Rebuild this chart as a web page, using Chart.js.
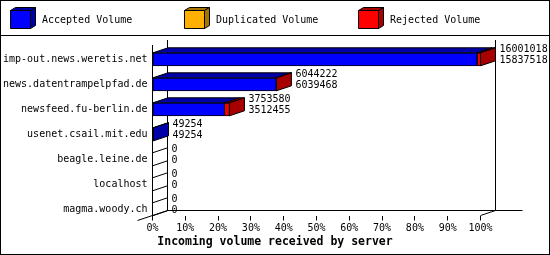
<!DOCTYPE html>
<html>
<head>
<meta charset="utf-8">
<script src="https://cdn.jsdelivr.net/npm/chart.js@4/dist/chart.umd.min.js"></script>
<style>
  html, body { margin: 0; padding: 0; background: #fff; }
  canvas { display: block; }
</style>
</head>
<body>
<canvas id="volumeChart" width="550" height="255"></canvas>
<script>
// incoming volume per server
const hosts = ["imp-out.news.weretis.net", "news.datentrampelpfad.de", "newsfeed.fu-berlin.de",
  "usenet.csail.mit.edu", "beagle.leine.de", "localhost", "magma.woody.ch"];
const offered = [16001018, 6044222, 3753580, 49254, 0, 0, 0];
const accepted = [15837518, 6039468, 3512455, 49254, 0, 0, 0];
const duplicated = [0, 0, 0, 0, 0, 0, 0];
const rejected = [163500, 4754, 241125, 0, 0, 0, 0];
const pctTicks = [0, 10, 20, 30, 40, 50, 60, 70, 80, 90, 100];

const FONT = '"DejaVu Sans Mono", monospace';
const DX = 15, DY = -5; // depth of the 3d box
const fullScale = Math.max(...offered);

const series = [
  { label: "Accepted Volume", values: accepted, color: "#0000ff", dark: "#0000a8" },
  { label: "Duplicated Volume", values: duplicated, color: "#ffb000", dark: "#a87400" },
  { label: "Rejected Volume", values: rejected, color: "#ff0000", dark: "#a80000" },
];

function line(ctx, x1, y1, x2, y2) {
  ctx.beginPath();
  ctx.moveTo(x1, y1);
  ctx.lineTo(x2, y2);
  ctx.stroke();
}

function poly(ctx, pts, fill) {
  ctx.beginPath();
  ctx.moveTo(pts[0][0], pts[0][1]);
  for (let k = 1; k < pts.length; k++) ctx.lineTo(pts[k][0], pts[k][1]);
  ctx.closePath();
  if (fill) {
    ctx.fillStyle = fill;
    ctx.fill();
  }
  ctx.strokeStyle = "#000";
  ctx.lineWidth = 1;
  ctx.stroke();
}

// draws frame, legend cubes, bar depth faces and value labels
const box3d = {
  id: "box3d",
  beforeDraw(chart) {
    const { ctx, width, height } = chart;
    ctx.save();
    ctx.fillStyle = "#fff";
    ctx.fillRect(0, 0, width, height);
    ctx.strokeStyle = "#000";
    ctx.lineWidth = 1;
    ctx.strokeRect(0.5, 0.5, width - 1, height - 1);
    line(ctx, 0, 35.5, width, 35.5);

    series.forEach((s, k) => {
      const x = 10.5 + k * 174, y = 10.5, w = 20, h = 18;
      poly(ctx, [[x, y], [x + w, y], [x + w + 5, y - 3], [x + 5, y - 3]], s.dark);
      poly(ctx, [[x + w, y], [x + w + 5, y - 3], [x + w + 5, y + h - 3], [x + w, y + h]], s.dark);
      poly(ctx, [[x, y], [x + w, y], [x + w, y + h], [x, y + h]], s.color);
      ctx.fillStyle = "#000";
      ctx.font = "10px " + FONT;
      ctx.textAlign = "left";
      ctx.textBaseline = "middle";
      ctx.fillText(s.label, x + 31.5, 20);
    });

    ctx.font = "bold 11.5px " + FONT;
    ctx.textAlign = "center";
    ctx.fillText("Incoming volume received by server", width / 2, 242);
    ctx.restore();
  },
  beforeDatasetsDraw(chart) {
    const { ctx, chartArea: a } = chart;
    const L = a.left, R = a.right, T = a.top, B = a.bottom;
    ctx.save();
    ctx.strokeStyle = "#000";
    ctx.lineWidth = 1;
    line(ctx, L, T, L, B);
    line(ctx, L + DX, T + DY, L + DX, B + DY);
    line(ctx, R + DX, T + DY, R + DX, B + DY);
    line(ctx, L + DX, B + DY, R + DX + 27, B + DY);
    line(ctx, L + DX, B + DY, L - DX, B - DY);
    line(ctx, R, B, R + DX, B + DY);
    ctx.restore();
  },
  afterDatasetsDraw(chart) {
    const { ctx } = chart;
    const metas = series.map((s, k) => chart.getDatasetMeta(k));
    ctx.save();
    hosts.forEach((host, i) => {
      let lastDark = null;
      metas.forEach((meta, k) => {
        if (!series[k].values[i]) return;
        const el = meta.data[i];
        const top = el.y - el.height / 2;
        poly(ctx, [[el.base, top], [el.x, top], [el.x + DX, top + DY], [el.base + DX, top + DY]], series[k].dark);
        lastDark = series[k].dark;
      });
      const end = metas[metas.length - 1].data[i];
      const top = end.y - end.height / 2, bot = end.y + end.height / 2;
      poly(ctx, [[end.x, top], [end.x + DX, top + DY], [end.x + DX, bot + DY], [end.x, bot]], lastDark);

      ctx.fillStyle = "#000";
      ctx.font = "10px " + FONT;
      ctx.textAlign = "left";
      ctx.textBaseline = "middle";
      ctx.fillText(String(offered[i]), end.x + DX + 4, end.y - 10);
      ctx.fillText(String(accepted[i]), end.x + DX + 4, end.y + 1);
    });
    ctx.restore();
  },
};

new Chart(document.getElementById("volumeChart"), {
  type: "bar",
  data: {
    datasets: series.map(s => ({
      label: s.label,
      data: s.values.map((v, i) => ({ x: v, y: i })),
      backgroundColor: s.color,
      borderColor: "#000",
      borderWidth: 1,
      borderSkipped: false,
      barThickness: 13,
    })),
  },
  options: {
    indexAxis: "y",
    responsive: false,
    animation: false,
    devicePixelRatio: 1,
    layout: { padding: { top: 45, right: 69.5, left: 0, bottom: 0 } },
    plugins: { legend: { display: false }, tooltip: { enabled: false } },
    scales: {
      x: {
        type: "linear",
        stacked: true,
        min: 0,
        max: fullScale,
        afterBuildTicks: s => { s.ticks = pctTicks.map(p => ({ value: p / 100 * fullScale })); },
        afterFit: s => { s.height = 39.5; },
        ticks: {
          callback: (v, idx) => pctTicks[idx] + "%",
          font: { family: FONT, size: 10 },
          color: "#000",
          padding: 2,
          maxRotation: 0,
          autoSkip: false,
        },
        grid: { display: true, drawOnChartArea: false, drawTicks: true, tickLength: 5, color: "#000" },
        border: { display: false },
      },
      y: {
        type: "linear",
        stacked: true,
        reverse: true,
        offset: false,
        min: -0.572,
        max: 6.248,
        afterBuildTicks: s => { s.ticks = hosts.map((h, i) => ({ value: i })); },
        afterFit: s => { s.width = 152.5; },
        ticks: {
          callback: v => hosts[v],
          font: { family: FONT, size: 10 },
          color: "#000",
          padding: 5,
          autoSkip: false,
        },
        grid: { display: false, drawTicks: false, offset: false },
        border: { display: false },
      },
    },
  },
  plugins: [box3d],
});
</script>
</body>
</html>
